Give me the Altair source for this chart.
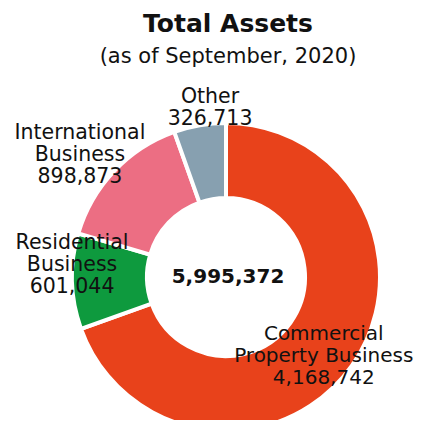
import altair as alt
import pandas as pd

categories = ["Commercial Property Business", "Residential Business", "International Business", "Other"]
values = [4168742, 601044, 898873, 326713]
label_lines = [
    ["Commercial", "Property Business", "4,168,742"],
    ["Residential", "Business", "601,044"],
    ["International", "Business", "898,873"],
    ["Other", "326,713"],
]
colors = ["#E8421B", "#0E9A3E", "#EC6E83", "#87A0B0"]
title_text = "Total Assets"
subtitle_text = "(as of September, 2020)"

FONT = "DejaVu Sans"
TOTAL = sum(values)
CX, CY = 218, 199

df = pd.DataFrame({
    "category": categories,
    "value": values,
    "order": list(range(len(categories))),
    "label": ["\n".join(l) for l in label_lines],
})

base = alt.Chart(df)

arcs = base.mark_arc(innerRadius=79, outerRadius=154, stroke="white", strokeWidth=4).encode(
    theta=alt.Theta("value:Q", stack=True),
    order=alt.Order("order:O"),
    color=alt.Color("category:N", scale=alt.Scale(domain=categories, range=colors), legend=None),
    x=alt.value(CX),
    y=alt.value(CY),
)

lab = base.transform_window(
    cum="sum(value)", sort=[alt.SortField("order")], frame=[None, 0]
).transform_calculate(mid="datum.cum - datum.value / 2")


def label_layer(cat, r, dx=0, dy=0, size=20.5):
    return lab.transform_filter(alt.datum.category == cat).mark_text(
        radius=r, dx=dx, dy=dy, lineBreak="\n", lineHeight=22, fontSize=size,
        font=FONT, align="center", baseline="middle", color="#111111",
    ).encode(
        theta=alt.Theta("mid:Q", stack=None, scale=alt.Scale(domain=[0, TOTAL])),
        text="label:N",
        x=alt.value(CX),
        y=alt.value(CY),
    )


labels = [
    label_layer(categories[0], 133, dx=-11, dy=-20, size=20),
    label_layer(categories[1], 154, dx=0, dy=-38),
    label_layer(categories[2], 190, dx=-8, dy=-13),
    label_layer(categories[3], 170, dx=13, dy=-12),
]

center = base.mark_text(
    font=FONT, fontSize=20, fontWeight="bold", align="center", baseline="middle",
    color="#111111", dx=2,
).encode(
    text=alt.Text("sum(value):Q", format=","),
    x=alt.value(CX),
    y=alt.value(CY),
)

chart = alt.layer(arcs, *labels, center).resolve_scale(theta="independent").properties(
    width=410,
    height=342,
    autosize=alt.AutoSizeParams(type="none"),
    padding={"top": 70, "left": 0, "right": 0, "bottom": 0},
    title=alt.TitleParams(
        text=title_text,
        subtitle=subtitle_text,
        font=FONT,
        fontSize=25,
        fontWeight="bold",
        color="#111111",
        subtitleFont=FONT,
        subtitleFontSize=21,
        subtitleColor="#111111",
        anchor="middle",
        offset=11,
        subtitlePadding=9,
        dx=15,
    ),
).configure_view(stroke=None)

chart.save("out.html", embed_options={"renderer": "svg", "actions": False})
